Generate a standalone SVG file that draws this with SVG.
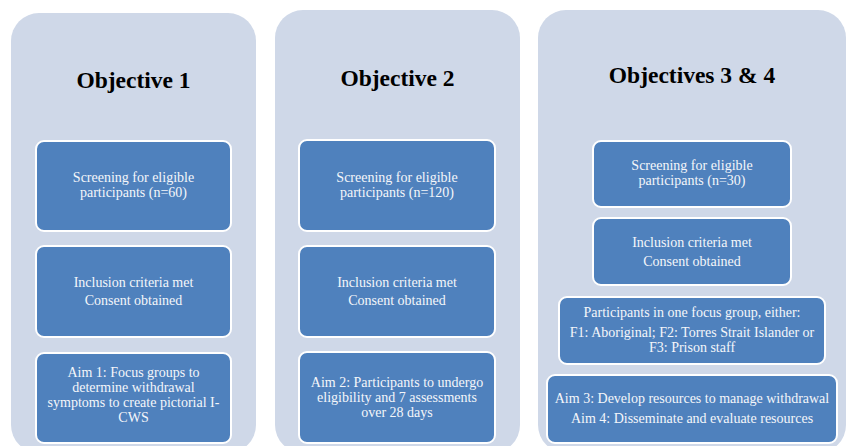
<svg xmlns="http://www.w3.org/2000/svg" width="851" height="446" viewBox="0 0 851 446">
<style>
.panel{fill:#CFD8E8;}
.box{fill:#4F81BD;stroke:#FFFFFF;stroke-width:2;}
.title{font-family:"Liberation Serif","Times New Roman",serif;font-weight:bold;font-size:23.5px;fill:#000000;text-anchor:middle;}
.t{font-family:"Liberation Serif","Times New Roman",serif;font-size:14px;fill:#F4F6FA;text-anchor:middle;}
</style>
<rect x="0" y="0" width="851" height="446" fill="#FFFFFF"/>
<g id="panel1">
<rect class="panel" x="11" y="13" width="245" height="440" rx="28"/>
<text class="title" x="133.5" y="88">Objective 1</text>
</g>
<g id="panel2">
<rect class="panel" x="275" y="10" width="245" height="443" rx="28"/>
<text class="title" x="397.5" y="86">Objective 2</text>
</g>
<g id="panel3">
<rect class="panel" x="538" y="10" width="308" height="443" rx="28"/>
<text class="title" x="692" y="83">Objectives 3 &amp; 4</text>
</g>
<g id="o1-screening">
<rect class="box" x="36" y="141" width="195" height="90" rx="8"/>
<text class="t" x="133.5" y="182">Screening for eligible</text>
<text class="t" x="133.5" y="197">participants (n=60)</text>
</g>
<g id="o1-inclusion">
<rect class="box" x="36" y="246" width="195" height="91" rx="8"/>
<text class="t" x="133.5" y="287">Inclusion criteria met</text>
<text class="t" x="133.5" y="305">Consent obtained</text>
</g>
<g id="o1-aim">
<rect class="box" x="36" y="353" width="195" height="90" rx="8"/>
<text class="t" x="133.5" y="377">Aim 1: Focus groups to</text>
<text class="t" x="133.5" y="392">determine withdrawal</text>
<text class="t" x="133.5" y="407">symptoms to create pictorial I-</text>
<text class="t" x="133.5" y="422">CWS</text>
</g>
<g id="o2-screening">
<rect class="box" x="299" y="140" width="196" height="91" rx="8"/>
<text class="t" x="397" y="182">Screening for eligible</text>
<text class="t" x="397" y="197">participants (n=120)</text>
</g>
<g id="o2-inclusion">
<rect class="box" x="299" y="246" width="196" height="91" rx="8"/>
<text class="t" x="397" y="287">Inclusion criteria met</text>
<text class="t" x="397" y="305">Consent obtained</text>
</g>
<g id="o2-aim">
<rect class="box" x="299" y="352" width="196" height="91" rx="8"/>
<text class="t" x="397" y="387">Aim 2: Participants to undergo</text>
<text class="t" x="397" y="402">eligibility and 7 assessments</text>
<text class="t" x="397" y="417">over 28 days</text>
</g>
<g id="o3-screening">
<rect class="box" x="593" y="141" width="198" height="66" rx="8"/>
<text class="t" x="692" y="170">Screening for eligible</text>
<text class="t" x="692" y="185">participants (n=30)</text>
</g>
<g id="o3-inclusion">
<rect class="box" x="593" y="218" width="198" height="67" rx="8"/>
<text class="t" x="692" y="247">Inclusion criteria met</text>
<text class="t" x="692" y="266">Consent obtained</text>
</g>
<g id="o3-focus">
<rect class="box" x="559" y="297" width="266" height="67" rx="8"/>
<text class="t" x="692" y="317">Participants in one focus group, either:</text>
<text class="t" x="692" y="337">F1: Aboriginal; F2: Torres Strait Islander or</text>
<text class="t" x="692" y="352">F3: Prison staff</text>
</g>
<g id="o3-aims">
<rect class="box" x="547" y="375" width="290" height="68" rx="8"/>
<text class="t" x="692" y="403">Aim 3: Develop resources to manage withdrawal</text>
<text class="t" x="692" y="423">Aim 4: Disseminate and evaluate resources</text>
</g>
<g id="connectors"></g>
</svg>
